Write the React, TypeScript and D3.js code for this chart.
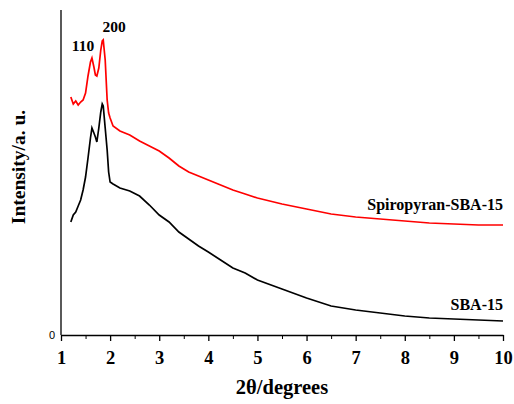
import * as d3 from "d3";
import { useEffect, useRef } from "react";

const twoTheta = [
  1.2, 1.25, 1.3, 1.35, 1.4, 1.45, 1.5, 1.55, 1.6, 1.63, 1.67, 1.7, 1.73, 1.77,
  1.81, 1.84, 1.86, 1.9, 1.94, 1.97, 2.0, 2.06, 2.2, 2.4, 2.6, 2.8, 3.0, 3.2,
  3.4, 3.6, 3.8, 4.0, 4.25, 4.5, 4.75, 5.0, 5.5, 6.0, 6.5, 7.0, 7.5, 8.0, 8.5,
  9.0, 9.5, 10.0,
];

// intensity (a. u.)
const spiropyranSBA15 = [
  238, 231, 234, 230, 233, 235, 242, 259, 273, 277, 268, 260, 259, 267, 285,
  294, 295, 275, 235, 222, 217, 209, 204, 200, 194, 189, 184, 177, 169, 163,
  159, 155, 150, 145, 141, 137, 131, 126, 121, 118, 116, 114, 112, 111, 110,
  110,
];

const sba15 = [
  113, 120, 123, 129, 135, 145, 158, 177, 197, 207, 202, 198, 193, 207, 223,
  231, 229, 207, 185, 163, 153, 151, 147, 144, 139, 130, 120, 113, 103, 96, 89,
  83, 75, 67, 62, 55, 46, 37, 29, 25, 22, 19, 17, 16, 15, 14,
];

const majorTicks = [1, 2, 3, 4, 5, 6, 7, 8, 9, 10];
const minorTicks = [1.5, 2.5, 3.5, 4.5, 5.5, 6.5, 7.5, 8.5, 9.5];

const serif = "'Liberation Serif', 'Times New Roman', serif";

const App = () => {
  const ref = useRef<SVGSVGElement>(null);

  useEffect(() => {
    const svg = d3.select(ref.current);
    svg.selectAll("*").remove();

    const x = d3.scaleLinear().domain([1, 10]).range([61, 503]);
    const y = d3.scaleLinear().domain([0, 325]).range([335, 10]);

    const line = d3
      .line<number>()
      .x((_, i) => x(twoTheta[i]))
      .y((d) => y(d));

    svg
      .append("path")
      .datum(sba15)
      .attr("d", line)
      .attr("fill", "none")
      .attr("stroke", "#000")
      .attr("stroke-width", 1.7);

    svg
      .append("path")
      .datum(spiropyranSBA15)
      .attr("d", line)
      .attr("fill", "none")
      .attr("stroke", "#ff0000")
      .attr("stroke-width", 1.7);

    // minor ticks
    svg
      .append("g")
      .attr("transform", "translate(0,335)")
      .call(d3.axisBottom(x).tickValues(minorTicks).tickSize(4).tickFormat(() => ""))
      .call((g) => g.select(".domain").remove());

    // x axis
    const xAxis = svg
      .append("g")
      .attr("transform", "translate(0,335)")
      .call(
        d3
          .axisBottom(x)
          .tickValues(majorTicks)
          .tickSize(6)
          .tickSizeOuter(0)
          .tickPadding(10)
          .tickFormat(d3.format("d"))
      );
    xAxis.selectAll("path, line").attr("stroke", "#000").attr("stroke-width", 1.3);
    xAxis
      .selectAll("text")
      .attr("font-family", serif)
      .attr("font-weight", "bold")
      .attr("font-size", 18.5)
      .attr("fill", "#000");

    // y axis line only
    svg
      .append("line")
      .attr("x1", x(1))
      .attr("x2", x(1))
      .attr("y1", y(325))
      .attr("y2", y(0))
      .attr("stroke", "#000")
      .attr("stroke-width", 1.3);

    svg
      .append("text")
      .attr("x", 55)
      .attr("y", y(0) + 4)
      .attr("text-anchor", "end")
      .attr("font-family", "'Liberation Sans', Arial, sans-serif")
      .attr("font-size", 11)
      .text("0");

    svg
      .append("text")
      .attr("x", 282)
      .attr("y", 394)
      .attr("text-anchor", "middle")
      .attr("font-family", serif)
      .attr("font-weight", "bold")
      .attr("font-size", 20.5)
      .text("2θ/degrees");

    svg
      .append("text")
      .attr("transform", "translate(25,167) rotate(-90)")
      .attr("text-anchor", "middle")
      .attr("font-family", serif)
      .attr("font-weight", "bold")
      .attr("font-size", 19.5)
      .text("Intensity/a. u.");

    const labels = [
      { text: "110", x: 83, y: 51, size: 15.5, anchor: "middle" },
      { text: "200", x: 114, y: 32, size: 15.5, anchor: "middle" },
      { text: "Spiropyran-SBA-15", x: 503, y: 210, size: 16, anchor: "end" },
      { text: "SBA-15", x: 503, y: 310, size: 16, anchor: "end" },
    ];
    svg
      .selectAll("text.note")
      .data(labels)
      .join("text")
      .attr("class", "note")
      .attr("x", (d) => d.x)
      .attr("y", (d) => d.y)
      .attr("text-anchor", (d) => d.anchor)
      .attr("font-family", serif)
      .attr("font-weight", "bold")
      .attr("font-size", (d) => d.size)
      .text((d) => d.text);
  }, []);

  return (
    <svg
      ref={ref}
      width={514}
      height={404}
      style={{ position: "fixed", left: 0, top: 0, background: "#fff" }}
    />
  );
};

export default App;
